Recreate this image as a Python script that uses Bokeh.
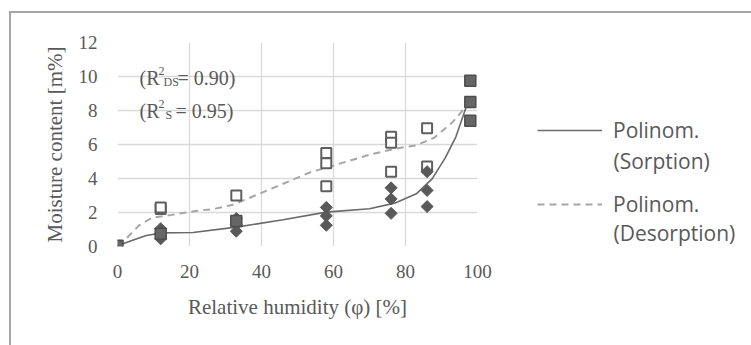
from bokeh.plotting import figure
from bokeh.layouts import row
from bokeh.models import (Legend, LegendItem, Label, FixedTicker,
                          InlineStyleSheet, Range1d)
from bokeh.embed import file_html
from bokeh.resources import INLINE

# ---- data ----
sorp_x = [12, 12, 12, 33, 33, 33, 58, 58, 58, 76, 76, 76, 86, 86, 86]
sorp_y = [0.45, 0.75, 1.05, 0.9, 1.3, 1.65, 1.25, 1.8, 2.3, 1.95, 2.8, 3.45, 2.35, 3.3, 4.4]

des_x = [12, 12, 33, 58, 58, 58, 76, 76, 76, 86, 86]
des_y = [2.2, 2.3, 3.0, 5.5, 4.9, 3.55, 6.45, 6.1, 4.4, 6.95, 4.7]

full_x = [0, 12, 33, 98, 98, 98]
full_y = [0.05, 0.75, 1.5, 9.75, 8.5, 7.4]

fit_s_x = [0, 4, 8, 12.5, 21, 33, 46, 58, 70, 77, 83, 87.4, 91, 94, 96.7, 98]
fit_s_y = [0.05, 0.35, 0.65, 0.8, 0.82, 1.14, 1.57, 2.02, 2.22, 2.55, 3.1, 3.98, 5.2, 6.45, 8.1, 8.8]

fit_d_x = [0, 1.4, 6, 9.7, 15, 22, 26.5, 32, 36, 45, 53.6, 59, 70, 77, 83, 88, 93, 96.7, 98]
fit_d_y = [0.1, 0.25, 1.24, 1.7, 1.86, 2.1, 2.2, 2.45, 2.8, 3.6, 4.37, 4.7, 5.4, 5.75, 5.95, 6.4, 7.3, 8.2, 8.6]

x_ticks = [0, 20, 40, 60, 80, 100]
y_ticks = [0, 2, 4, 6, 8, 10, 12]

legend_first = ["Polinom.", "Polinom."]
legend_second = ["(Sorption)", "(Desorption)"]

TXT = "#595959"
SERIF = "Liberation Serif"
SANS = "Open Sans"
S_COLOR, D_COLOR = "#6a6a6a", "#a6a6a6"

p = figure(width=537, height=345, output_backend="svg", toolbar_location=None,
           x_range=Range1d(0, 100), y_range=Range1d(0, 12),
           min_border_left=117, min_border_right=60, min_border_top=42, min_border_bottom=99)
p.outline_line_color = None
p.background_fill_color = "white"
p.border_fill_color = "white"

for ax in (p.xaxis[0], p.yaxis[0]):
    ax.axis_line_color = None
    ax.major_tick_line_color = None
    ax.minor_tick_line_color = None
    ax.major_tick_out = 0
    ax.major_tick_in = 0
    ax.major_label_text_font = SERIF
    ax.major_label_text_font_size = "19px"
    ax.major_label_text_color = TXT
    ax.axis_label_text_font = SERIF
    ax.axis_label_text_font_style = "normal"
    ax.axis_label_text_font_size = "21px"
    ax.axis_label_text_color = TXT

p.xaxis.ticker = FixedTicker(ticks=x_ticks)
p.yaxis.ticker = FixedTicker(ticks=y_ticks)
p.xaxis.major_label_standoff = 18
p.yaxis.major_label_standoff = 20
p.xaxis.axis_label = "Relative humidity (\u03c6) [%]"
p.yaxis.axis_label = "Moisture content [m%]"
p.xaxis.axis_label_standoff = 14
p.yaxis.axis_label_standoff = 9

p.xgrid.ticker = FixedTicker(ticks=x_ticks)
p.ygrid.ticker = FixedTicker(ticks=y_ticks)
p.xgrid.grid_line_color = "#d9d9d9"
p.ygrid.grid_line_color = "#d9d9d9"
p.xgrid.grid_line_width = 1.3
p.ygrid.grid_line_width = 1.3

# trend lines
p.line(fit_s_x, fit_s_y, line_color=S_COLOR, line_width=1.6)
p.line(fit_d_x, fit_d_y, line_color=D_COLOR, line_width=2, line_dash="7 5")

# markers
p.scatter(des_x, des_y, marker="square", size=10, fill_color="white",
          line_color="#5f5f5f", line_width=2)
p.scatter(sorp_x, sorp_y, marker="square", angle=0.785398, size=8.5,
          fill_color="#595959", line_color="#595959", line_width=1)
p.scatter(full_x, full_y, marker="square", size=11, fill_color="#666666",
          line_color="#4d4d4d", line_width=1.5)

# R^2 annotations (pieces for super/subscripts)
pieces = [
    ("(R", 22, 169, "20px"), ("2", 41, 176, "12px"), ("DS", 46, 165, "12px"), ("= 0.90)", 60, 169, "20px"),
    ("(R", 22, 136, "20px"), ("2", 41, 143, "12px"), ("S", 48, 132, "12px"), ("= 0.95)", 58, 136, "20px"),
]
for t, xx, yy, fs in pieces:
    p.add_layout(Label(x=xx, y=yy, x_units="screen", y_units="screen", text=t,
                       text_font=SERIF, text_font_size=fs, text_color=TXT,
                       text_baseline="alphabetic"))

p.stylesheets = [InlineStyleSheet(css="""
:host { position: relative; }
:host::after { content: ""; position: absolute; left: 9px; top: 11px; right: 0px; bottom: 0px;
  border-top: 2px solid #a6a6a6; border-left: 2px solid #a6a6a6; pointer-events: none; }
""")]

# ---- legend panel (its frame is aligned with the main frame: y 42..246) ----
# ranges are chosen so that the trend lines themselves fall outside this panel;
# only their legend glyphs are shown here
q = figure(width=214, height=345, output_backend="svg", toolbar_location=None,
           x_range=Range1d(1000, 1001), y_range=Range1d(1000, 1001),
           x_axis_location=None, y_axis_location=None,
           min_border_left=0, min_border_right=0, min_border_top=0, min_border_bottom=0)
q.grid.visible = False
q.outline_line_color = None
q.background_fill_color = "white"
q.border_fill_color = "white"
l_s = q.line(fit_s_x, fit_s_y, line_color=S_COLOR, line_width=1.6)
l_d = q.line(fit_d_x, fit_d_y, line_color=D_COLOR, line_width=2, line_dash="7 5")

legend = Legend(items=[LegendItem(label=legend_first[0], renderers=[l_s]),
                       LegendItem(label=legend_first[1], renderers=[l_d])],
                location=(0, 27), orientation="vertical",
                padding=0, margin=0, spacing=44,
                glyph_width=65, glyph_height=30, label_height=30,
                label_standoff=11,
                label_text_font=SANS, label_text_font_size="21px",
                label_text_color=TXT,
                border_line_color=None, background_fill_alpha=0)
q.add_layout(legend, "center")

for txt, yy in zip(legend_second, (86, 14)):
    q.add_layout(Label(x=76, y=yy, x_units="screen", y_units="screen", text=txt,
                       text_font=SANS, text_font_size="21px", text_color=TXT,
                       text_baseline="middle"))

q.stylesheets = [InlineStyleSheet(css="""
:host { position: relative; }
:host::after { content: ""; position: absolute; left: 0px; top: 11px; right: 0px; height: 0px;
  border-top: 2px solid #a6a6a6; pointer-events: none; }
""")]

layout = row(p, q)
open("out.html", "w").write(file_html(layout, INLINE))
